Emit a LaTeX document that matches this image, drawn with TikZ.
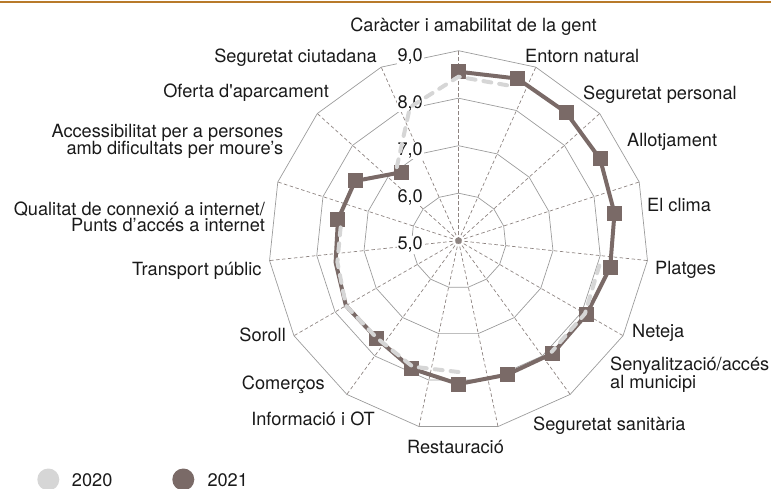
\documentclass[tikz,border=0pt]{standalone}
\usepackage{fontspec}
\setmainfont{TeX Gyre Heros}
\usetikzlibrary{calc}
\definecolor{taupe}{HTML}{7A6A67}
\definecolor{lightg}{HTML}{D6D6D6}
\definecolor{ringg}{HTML}{9C9C9C}
\definecolor{spokeg}{HTML}{8E8481}
\definecolor{topline}{HTML}{B87A2A}
\definecolor{txt}{HTML}{1A1A1A}
\begin{document}
\begin{tikzpicture}[x=1pt,y=-1pt,
  lab/.style={font=\fontsize{18.2}{20}\selectfont, text=txt, inner sep=0pt},
  ringlab/.style={lab, fill=white, inner sep=1pt},
  ringline/.style={ringg, line width=0.7pt},
  spoke/.style={spokeg, line width=0.7pt, dash pattern=on 3.5pt off 2.5pt},
  y2021/.style={taupe, line width=4pt, line join=round},
  y2020/.style={lightg, line width=4pt, line cap=round, line join=round, dash pattern=on 8pt off 8pt},
  sq/.style={rectangle, fill=taupe, minimum size=15pt, inner sep=0pt}]
\useasboundingbox (0,0) rectangle (771,489);
\draw[topline, line width=2pt] (0,2) -- (771,2);
\coordinate (C) at (458.5,240.7);
\begin{scope}[shift={(C)}, yscale=-1]
  % grid
  \foreach \r in {47.5,95,142.5,190} {
    \draw[ringline] (90:\r) \foreach \k in {1,...,14} { -- ({90+24*\k}:\r) } -- cycle;
  }
  \foreach \k in {0,...,14} \draw[spoke] (0,0) -- ({90+24*\k}:190);
  \fill[spokeg] (0,0) circle (3.2);
  % 2021 data
  \foreach \r [count=\i from 0] in {169,172.5,167.4,163.5,158.4,154,147.7,146.9,142.5,143.3,136.2,127.4,130,124.8,122.4,119.4,89.3}
    {\coordinate (b\i) at ({90-20*\i}:\r);}
  % 2020 data
  \foreach \i/\r in {0/164,1/164,5/143,6/146,7/145,9/131.3,10/134,11/127,12/130,13/123,14/119,16/96,17/142}
    {\coordinate (a\i) at ({90-20*\i}:\r);}
\end{scope}
% ring value labels
\foreach \v [count=\k from 0] in {5,6,7,8,9}
  \node[ringlab, anchor=base east] (v\v) at (424,{250-47.2*\k}) {\v,0};
% 2021 line and markers
\draw[y2021] (b0) \foreach \i in {1,...,16} { -- (b\i) };
\foreach \i in {0,1,2,3,4,5,6,7,8,9,10,11,14,15,16} \node[sq] (m\i) at (b\i) {};
% 2020 line
\draw[y2020] (a16) -- (a17) -- (a0) -- (a1);
\draw[y2020] (a5) -- (a6) -- (a7);
\draw[y2020] (a9) -- (a10) -- (a11) -- (a12) -- (a13) -- (a14);
% axis labels
\node[lab, anchor=base] (l1) at (473.5,32) {Caràcter i amabilitat de la gent};
\node[lab, anchor=base east] (l18) at (377,63) {Seguretat ciutadana};
\node[lab, anchor=base west] (l2) at (525,63) {Entorn natural};
\node[lab, anchor=base west] (l3) at (583,100) {Seguretat personal};
\node[lab, anchor=base west] (l4) at (627,147) {Allotjament};
\node[lab, anchor=base west] (l5) at (647,212) {El clima};
\node[lab, anchor=base west] (l6) at (655,274) {Platges};
\node[lab, anchor=base west] (l7) at (632,337) {Neteja};
\node[lab, anchor=base west] (l8a) at (610,370) {Senyalització/accés};
\node[lab, anchor=base west] (l8b) at (610,388) {al municipi};
\node[lab, anchor=base west] (l9) at (533,430) {Seguretat sanitària};
\node[lab, anchor=base] (l10) at (455.5,453) {Restauració};
\node[lab, anchor=base east] (l11) at (375,425) {Informació i OT};
\node[lab, anchor=base east] (l12) at (325,389) {Comerços};
\node[lab, anchor=base east] (l13) at (286,341) {Soroll};
\node[lab, anchor=base east] (l14) at (261.7,275.7) {Transport públic};
\node[lab, anchor=base east] (l15a) at (265,215) {Qualitat de connexió a internet/};
\node[lab, anchor=base east] (l15b) at (265,232) {Punts d’accés a internet};
\node[lab, anchor=base east] (l16a) at (283.3,137.7) {Accessibilitat per a persones};
\node[lab, anchor=base east] (l16b) at (283.3,155) {amb dificultats per moure’s};
\node[lab, anchor=base east] (l17) at (329,97.7) {Oferta d\textquotesingle aparcament};
% legend
\fill[lightg] (48.3,479.5) circle (11);
\fill[taupe] (183.3,479.5) circle (11);
\node[lab, anchor=base west] (k1) at (71.7,486) {2020};
\node[lab, anchor=base west] (k2) at (207.3,486) {2021};
\end{tikzpicture}
\end{document}
